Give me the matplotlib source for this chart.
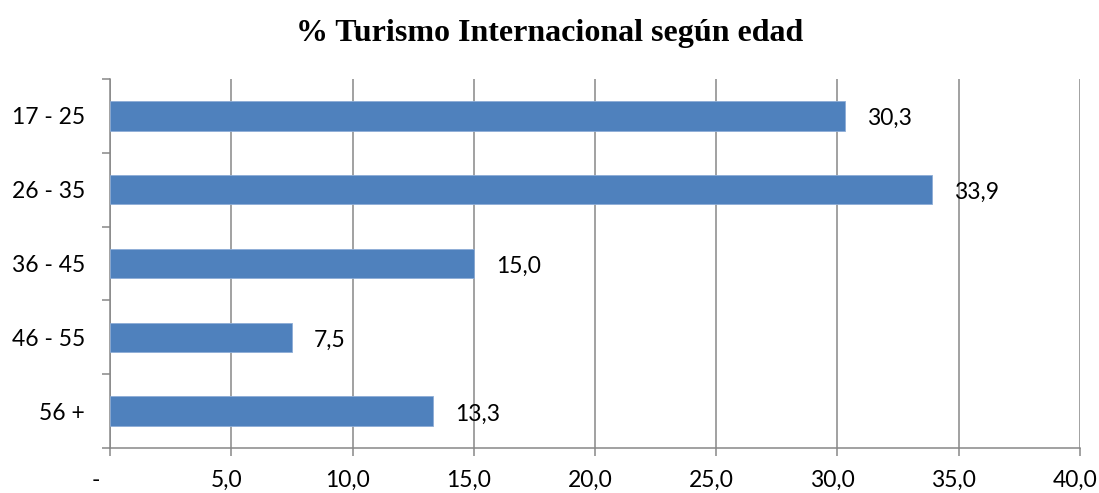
import numpy as np
from matplotlib import pyplot as plt
from matplotlib.ticker import FixedLocator
from matplotlib.transforms import ScaledTranslation

# datos
edades = ['17 - 25', '26 - 35', '36 - 45', '46 - 55', '56 +']
porcentaje = [30.3, 33.9, 15.0, 7.5, 13.3]
x_ticks = [0, 5, 10, 15, 20, 25, 30, 35, 40]
x_labels = ['-   ', '5,0', '10,0', '15,0', '20,0', '25,0', '30,0', '35,0', '40,0']

azul = '#4F81BD'
gris = '#878787'
fuente = 'Lato'

fig = plt.figure(figsize=(10.99, 4.93), dpi=100)
ax = fig.add_axes([0.1001, 0.0913, 0.8826, 0.7485])

y = np.arange(len(edades))
ax.barh(y, porcentaje, height=0.4, color=azul, edgecolor='#8EADD6', linewidth=0.6, zorder=3)

for yi, v in zip(y, porcentaje):
    ax.annotate(f'{v:.1f}'.replace('.', ','), (v, yi), xytext=(16, -2), textcoords='offset points',
                va='center', ha='left', fontsize=16.5, family=fuente, zorder=4)

ax.set_xlim(0, 40)
ax.set_ylim(len(edades) - 0.5, -0.5)

ax.set_xticks(x_ticks)
ax.set_xticklabels(x_labels, fontsize=16.5, family=fuente)
ax.set_yticks(y)
ax.set_yticklabels(edades, fontsize=16.5, family=fuente)
ax.yaxis.set_minor_locator(FixedLocator(np.arange(-0.5, len(edades), 1.0)))

ax.tick_params(axis='y', which='major', length=0, pad=18)
ax.tick_params(axis='y', which='minor', length=6, width=1.1, color=gris)
ax.tick_params(axis='x', which='major', length=6, width=1.1, color=gris, pad=10)

# etiquetas del eje x un poco corridas a la izquierda, como en excel
desplazar = ScaledTranslation(-5 / 100, 0, fig.dpi_scale_trans)
for tick in ax.xaxis.get_major_ticks():
    tick.label1.set_transform(tick.label1.get_transform() + desplazar)

ax.grid(axis='x', color=gris, linewidth=1.1, zorder=0)
for s in ['top', 'right']:
    ax.spines[s].set_visible(False)
for s in ['left', 'bottom']:
    ax.spines[s].set_color(gris)
    ax.spines[s].set_linewidth(1.1)

fig.suptitle('% Turismo Internacional según edad', y=0.962, fontsize=23, fontweight='bold',
             family='Liberation Serif')

fig.savefig('out.png', dpi=100)
